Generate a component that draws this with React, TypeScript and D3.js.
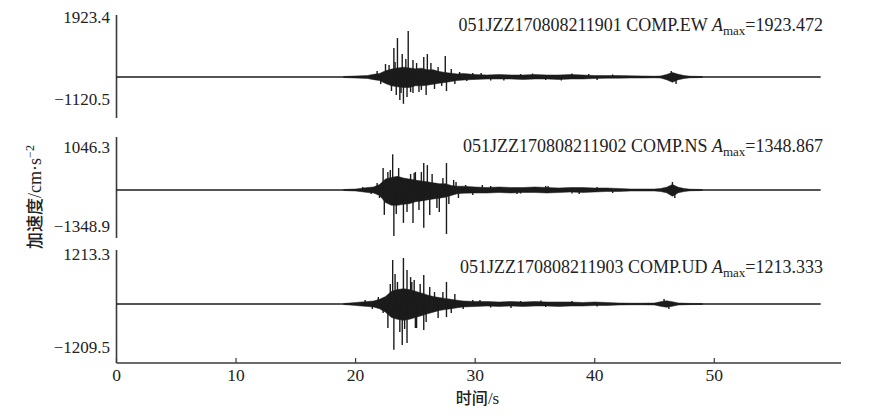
import React from "react";
import * as d3 from "d3";

// ---------- data ----------
const X_TICKS = [0, 10, 20, 30, 40, 50];
const X_MAX = 60.6;
const TRACE_END = 58.9;

const STATIONS = ["051JZZ170808211901", "051JZZ170808211902", "051JZZ170808211903"];
const COMPONENTS = ["EW", "NS", "UD"];
const AMAX = [1923.472, 1348.867, 1213.333];
const Y_TOP_LABELS = ["1923.4", "1046.3", "1213.3"];
const Y_BOTTOM_LABELS = ["\u22121120.5", "\u22121348.9", "\u22121209.5"];

// envelope time grid (s)
const TIME_GRID = [19, 20, 21, 21.5, 22, 22.5, 23, 23.5, 24, 24.5, 25, 25.5, 26, 26.5, 27, 27.5, 28, 28.5, 29, 30, 31, 32, 33, 34, 35, 36, 37, 38, 39, 40, 41, 42, 43, 44, 45, 45.5, 46, 46.5, 47, 47.5, 48, 49];

// envelope of dense motion (cm/s^2)
const EW_UPPER = [21, 42, 63, 110, 150, 260, 330, 380, 410, 380, 340, 370, 300, 300, 230, 190, 160, 130, 150, 100, 84, 105, 84, 84, 105, 84, 84, 105, 84, 63, 63, 63, 50, 42, 33, 42, 100, 190, 110, 60, 33, 21];
const EW_LOWER = [-21, -42, -63, -110, -150, -270, -370, -410, -440, -440, -370, -370, -340, -300, -260, -230, -190, -150, -130, -100, -84, -84, -84, -105, -84, -84, -105, -84, -84, -63, -50, -50, -42, -42, -33, -42, -110, -220, -110, -60, -33, -21];
const NS_UPPER = [15, 29, 73, 88, 160, 320, 370, 400, 350, 320, 290, 265, 240, 210, 185, 185, 135, 110, 110, 88, 73, 88, 73, 73, 88, 73, 59, 73, 73, 59, 59, 44, 29, 29, 29, 44, 80, 160, 80, 44, 23, 15];
const NS_LOWER = [-15, -29, -73, -88, -160, -370, -450, -450, -420, -400, -345, -320, -290, -265, -240, -210, -160, -110, -95, -88, -88, -73, -88, -73, -73, -88, -73, -59, -73, -59, -44, -44, -29, -29, -29, -44, -80, -185, -80, -44, -23, -15];
const UD_UPPER = [13, 40, 66, 79, 125, 195, 335, 380, 405, 380, 335, 290, 240, 195, 170, 145, 125, 100, 79, 66, 66, 53, 66, 53, 66, 53, 53, 53, 40, 53, 40, 26, 21, 21, 26, 60, 85, 60, 26, 21, 16, 13];
const UD_LOWER = [-13, -40, -66, -79, -125, -215, -355, -405, -430, -405, -355, -310, -260, -215, -170, -145, -125, -100, -79, -66, -53, -66, -53, -66, -53, -53, -66, -53, -53, -40, -40, -26, -21, -21, -26, -60, -85, -60, -26, -21, -16, -13];

// individual peaks (time s, value cm/s^2): strong ones, minor ones, coda wiggles
const EW_SPIKE_T = [22.5, 23.2, 23.5, 23.9, 24.4, 24.8, 25.7, 26.0, 27.5, 23.4, 23.7, 24.0, 24.3, 24.8, 25.3, 25.9, 27.6,
  21.8, 22.1, 22.8, 23.0, 23.3, 23.8, 24.2, 24.6, 25.1, 25.5, 26.3, 26.6, 26.9, 27.2, 28.0, 28.3, 28.7, 29.3,
  29.8, 30.5, 31.3, 32.4, 33.8, 34.8, 35.9, 37.2, 38.1, 39.5, 40.2, 41.5, 46.4, 46.8];
const EW_SPIKE_V = [545, 1210, 1630, 960, 1923.4, 710, 840, 960, 880, -750, -960, -1120.5, -840, -670, -630, -750, -590,
  250, -290, 500, -585, 630, -670, 750, -630, 585, -545, 585, -500, 420, -375, 335, -290, 210, -170,
  167, 170, -146, -145, 125, 145, -125, -145, 146, 125, -125, 105, 250, -290];
const NS_SPIKE_T = [22.3, 22.7, 23.1, 23.9, 24.6, 25.0, 25.7, 26.0, 26.7, 27.6, 28.4, 22.4, 23.2, 24.0, 24.8, 25.7, 26.2, 27.0, 27.6,
  20.6, 21.3, 21.8, 22.0, 22.9, 23.4, 23.6, 24.3, 24.9, 25.3, 25.5, 26.4, 26.8, 27.3, 27.8, 28.2, 28.6, 29.2,
  29.8, 30.6, 31.3, 33.5, 33.8, 35.9, 36.1, 38.1, 38.7, 40.2, 41.5, 46.5, 46.7];
const NS_SPIKE_V = [645, 530, 1046.3, 350, 470, 530, 790, 730, 205, 790, 235, -730, -1348.9, -965, -965, -1110, -730, -645, -1290,
  88, -117, 205, -234, 586, -703, 645, -645, 498, -586, 527, 469, -527, 352, -410, 293, -234, 147,
  -147, 147, 117, -117, -103, 117, 117, -103, -117, 88, -88, 234, -234];
const UD_SPIKE_T = [23.1, 23.5, 24.0, 24.3, 24.6, 24.9, 25.7, 26.6, 27.6, 22.7, 23.2, 23.9, 24.3, 25.1, 25.7, 27.6,
  20.8, 21.4, 21.9, 22.3, 22.9, 23.3, 23.7, 24.1, 24.7, 25.0, 25.4, 25.9, 26.2, 26.9, 27.3, 28.0, 28.3, 29.0,
  29.8, 30.4, 31.3, 33.0, 33.8, 35.5, 35.9, 38.1, 40.2, 45.8, 46.2];
const UD_SPIKE_V = [1160, 580, 1213.3, 900, 710, 635, 765, 315, 580, -635, -1209.5, -1080, -1030, -635, -685, -345,
  106, -132, 185, -238, 528, 792, -739, -660, 581, -634, 528, -475, 449, -370, 317, -238, 264, -132,
  106, 106, -92, -106, 79, 92, -79, 79, -66, 132, -132];

const UPPERS = [EW_UPPER, NS_UPPER, UD_UPPER];
const LOWERS = [EW_LOWER, NS_LOWER, UD_LOWER];
const SPIKE_TS = [EW_SPIKE_T, NS_SPIKE_T, UD_SPIKE_T];
const SPIKE_VS = [EW_SPIKE_V, NS_SPIKE_V, UD_SPIKE_V];

// ---------- layout ----------
const W = 872;
const HGT = 419;
const X0 = 116.5;
const X1 = 841;
const PANELS = [
  { top: 15, bottom: 118, zero: 77, topLab: 23, botLab: 105, annot: 31 },
  { top: 137, bottom: 238, zero: 190, topLab: 153, botLab: 232, annot: 152 },
  { top: 250, bottom: 363, zero: 304, topLab: 260, botLab: 353, annot: 273 },
];
const AMP_PX = 46;
const INK = "#1b1b1b";
const AXIS = "#3a3a3a";
const SERIF = "'Liberation Serif', 'Times New Roman', serif";
const CJK = "'Noto Sans CJK SC', sans-serif";

export default function App() {
  const x = d3.scaleLinear().domain([0, X_MAX]).range([X0, X1]);
  const axisY = PANELS[2].bottom;

  return (
    <svg width={W} height={HGT} style={{ position: "absolute", left: 0, top: 0, background: "#fff" }}>
      {PANELS.map((p, i) => {
        const y = d3.scaleLinear().domain([-AMAX[i], AMAX[i]]).range([p.zero + AMP_PX, p.zero - AMP_PX]);
        const pts = TIME_GRID.map((t, k) => ({ t, hi: UPPERS[i][k], lo: LOWERS[i][k] }));
        const area = d3
          .area<{ t: number; hi: number; lo: number }>()
          .x((d) => x(d.t))
          .y0((d) => y(d.lo))
          .y1((d) => y(d.hi));
        return (
          <g key={i}>
            <line x1={X0} x2={X0} y1={p.top} y2={p.bottom} stroke={AXIS} strokeWidth={1.6} />
            <text x={110} y={p.topLab} textAnchor="end" fontFamily={SERIF} fontSize={17} fill="#222">
              {Y_TOP_LABELS[i]}
            </text>
            <text x={110} y={p.botLab} textAnchor="end" fontFamily={SERIF} fontSize={17} fill="#222">
              {Y_BOTTOM_LABELS[i]}
            </text>
            <line x1={x(0)} x2={x(TRACE_END)} y1={y(0)} y2={y(0)} stroke={INK} strokeWidth={1.6} />
            <path d={area(pts) || ""} fill={INK} stroke={INK} strokeWidth={0.5} />
            {SPIKE_TS[i].map((t, k) => (
              <line key={k} x1={x(t)} x2={x(t)} y1={y(0)} y2={y(SPIKE_VS[i][k])} stroke={INK} strokeWidth={1.4} />
            ))}
            <text x={823} y={p.annot} textAnchor="end" fontFamily={SERIF} fontSize={18} fill="#222">
              {STATIONS[i]} COMP.{COMPONENTS[i]}{" "}
              <tspan fontStyle="italic">A</tspan>
              <tspan dy={4} fontSize={13}>max</tspan>
              <tspan dy={-4}>={AMAX[i].toFixed(3)}</tspan>
            </text>
          </g>
        );
      })}
      <line x1={X0} x2={X1} y1={axisY} y2={axisY} stroke={AXIS} strokeWidth={1.6} />
      {X_TICKS.map((t) => (
        <g key={t}>
          <line x1={x(t)} x2={x(t)} y1={axisY} y2={axisY - 5} stroke={AXIS} strokeWidth={1.2} />
          <text x={x(t)} y={axisY + 18} textAnchor="middle" fontFamily={SERIF} fontSize={17.5} fill="#222">
            {t}
          </text>
        </g>
      ))}
      <text x={x(30.2)} y={404} textAnchor="middle" fontFamily={CJK} fontSize={16} fontWeight={500} fill="#222">
        时间<tspan fontFamily={SERIF} fontSize={17}>/s</tspan>
      </text>
      <text
        transform={`translate(41, 197) rotate(-90)`}
        textAnchor="middle"
        fontFamily={CJK}
        fontSize={17}
        fontWeight={500}
        fill="#222"
      >
        加速度<tspan fontFamily={SERIF} fontSize={18} fontWeight={400}>/cm·s</tspan>
        <tspan dy={-7} fontFamily={SERIF} fontSize={12} fontWeight={400}>−2</tspan>
      </text>
    </svg>
  );
}
